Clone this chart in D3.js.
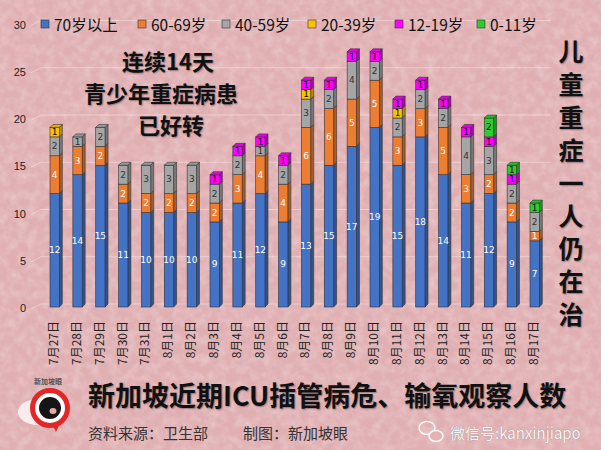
<!DOCTYPE html>
<html>
<head>
<meta charset="utf-8">
<script src="https://cdn.jsdelivr.net/npm/d3@7"></script>
<style>
body { margin: 0; background: #e3b3b6; }
svg { display: block; }
text { font-family: "Noto Sans CJK SC", "Noto Sans", sans-serif; }
</style>
</head>
<body>
<div id="chart"></div>
<script>
// chart data
const dates = ["7月27日","7月28日","7月29日","7月30日","7月31日","8月1日","8月2日","8月3日","8月4日","8月5日","8月6日",
  "8月7日","8月8日","8月9日","8月10日","8月11日","8月12日","8月13日","8月14日","8月15日","8月16日","8月17日"];
const groups = ["70岁以上","60-69岁","40-59岁","20-39岁","12-19岁","0-11岁"];
const age70 = [12,14,15,11,10,10,10,9,11,12,9,13,15,17,19,15,18,14,11,12,9,7];
const age60 = [4,3,2,2,2,2,2,2,3,4,4,6,6,5,5,3,3,5,3,2,2,1];
const age40 = [2,1,2,2,3,3,3,2,2,1,2,3,2,4,2,2,2,2,4,3,2,2];
const age20 = [1,0,0,0,0,0,0,0,0,0,0,1,0,0,0,1,0,0,0,0,0,0];
const age12 = [0,0,0,0,0,0,0,1,1,1,1,1,1,1,1,1,1,1,1,1,1,0];
const age0  = [0,0,0,0,0,0,0,0,0,0,0,0,0,0,0,0,0,0,0,2,1,1];
const yTicks = [0,5,10,15,20,25,30];

const colors = ["#4472c4","#ed7d31","#a5a5a5","#ffc000","#ff00ff","#2fcb2f"];
const labelColors = ["#ffffff","#ffffff","#333333","#111111","#111111","#111111"];

const W = 601, H = 450;
const depth = 3;

const svg = d3.select("#chart").append("svg")
  .attr("width", W).attr("height", H);

// background texture
const defs = svg.append("defs");
const f = defs.append("filter").attr("id","tex").attr("x",0).attr("y",0).attr("width","100%").attr("height","100%");
f.append("feTurbulence").attr("type","fractalNoise").attr("baseFrequency","0.11").attr("numOctaves",3).attr("seed",7);
f.append("feColorMatrix").attr("type","matrix")
  .attr("values","0 0 0 0 1  0 0 0 0 1  0 0 0 0 1  0.5 0 0 0 -0.18");
svg.append("rect").attr("width",W).attr("height",H).attr("fill","#e0afb2");
svg.append("rect").attr("width",W).attr("height",H).attr("filter","url(#tex)");

// build table for stacking
const table = dates.map((d,i) => ({
  date: d,
  "70岁以上": age70[i], "60-69岁": age60[i], "40-59岁": age40[i],
  "20-39岁": age20[i], "12-19岁": age12[i], "0-11岁": age0[i]
}));
const series = d3.stack().keys(groups)(table);

// scales
const x = d3.scaleBand()
  .domain(dates)
  .range([50, 539.3])
  .paddingInner(0.593)
  .paddingOuter(0);

const y = d3.scaleLinear()
  .domain([0,30])
  .range([307, 307 - 30*9.45]);

// gridlines on the back wall
const grid = svg.append("g");
yTicks.forEach(t => {
  grid.append("path")
    .attr("d", "M31," + (y(t)+2) + "L41," + (y(t)-3) + "L551," + (y(t)-3))
    .attr("fill","none")
    .attr("stroke","rgba(255,240,240,0.45)")
    .attr("stroke-width",1);
});

// y axis
const yAxis = d3.axisLeft(y).tickValues(yTicks).tickSize(0).tickPadding(3);
const gy = svg.append("g").attr("transform","translate(29,1)").call(yAxis);
gy.select(".domain").remove();
gy.selectAll("text").style("font-size","11px").style("font-family","'Liberation Sans', sans-serif").attr("fill","#222");

// x axis
const xAxis = d3.axisBottom(x).tickSize(0);
const gx = svg.append("g").attr("transform","translate(-1,318)").call(xAxis);
gx.select(".domain").remove();
gx.selectAll("text")
  .attr("transform","rotate(-90)")
  .attr("text-anchor","end")
  .attr("x",-3).attr("y",0).attr("dy","0.36em")
  .style("font-size","12px")
  .attr("fill","#222");

// 3D stacked bars
const bw = x.bandwidth();
const barG = svg.append("g");
dates.forEach((d,i) => {
  const x0 = x(d);
  let topIdx = -1;
  series.forEach((s,k) => { if (s[i][1] > s[i][0]) topIdx = k; });
  series.forEach((s,k) => {
    const v0 = s[i][0], v1 = s[i][1];
    if (v1 <= v0) return;
    const yt = y(v1), yb = y(v0);
    const c = d3.color(colors[k]);
    // side
    barG.append("path")
      .attr("d", `M${x0+bw},${yt}L${x0+bw+depth},${yt-depth}L${x0+bw+depth},${yb-depth}L${x0+bw},${yb}Z`)
      .attr("fill", c.darker(0.9))
      .attr("stroke","#333").attr("stroke-width",0.6).attr("stroke-linejoin","round");
    // front
    barG.append("rect")
      .attr("x", x0).attr("y", yt).attr("width", bw).attr("height", yb-yt)
      .attr("fill", colors[k])
      .attr("stroke","#333").attr("stroke-width",0.6);
    if (k === topIdx) {
      barG.append("path")
        .attr("d", `M${x0},${yt}L${x0+depth},${yt-depth}L${x0+bw+depth},${yt-depth}L${x0+bw},${yt}Z`)
        .attr("fill", c.darker(0.25))
        .attr("stroke","#333").attr("stroke-width",0.6).attr("stroke-linejoin","round");
    }
    barG.append("text")
      .attr("x", x0 + bw/2).attr("y", (yt+yb)/2)
      .attr("text-anchor","middle").attr("dominant-baseline","central")
      .style("font-family","'DejaVu Sans', sans-serif")
      .style("font-size","9px")
      .attr("fill", labelColors[k])
      .text(v1 - v0);
  });
});

// legend
const legendX = [41, 138, 222, 308, 395, 477];
const lg = svg.append("g");
groups.forEach((g,k) => {
  lg.append("rect").attr("x", legendX[k]).attr("y", 20).attr("width",8).attr("height",8)
    .attr("fill", colors[k]).attr("stroke","#333").attr("stroke-width",0.6);
  lg.append("text").attr("x", legendX[k] + 13).attr("y", 24)
    .attr("dominant-baseline","central")
    .style("font-size","15.5px").attr("fill","#111")
    .text(g);
});

// overlay headline
const shadow = "1px 1px 1.5px rgba(0,0,0,0.35)";
const head = [["连续14天",122,60],["青少年重症病患",84,92],["已好转",138,124]];
head.forEach(h => {
  svg.append("text").attr("x",h[1]).attr("y",h[2])
    .attr("dominant-baseline","central")
    .style("font-size","22px").style("font-weight","bold")
    .style("text-shadow", shadow)
    .attr("fill","#111").text(h[0]);
});

// vertical side text
const side = "儿童重症一人仍在治".split("");
side.forEach((ch,i) => {
  svg.append("text").attr("x",571).attr("y",50 + i*32.9)
    .attr("text-anchor","middle").attr("dominant-baseline","central")
    .style("font-size","25px").style("font-weight","bold")
    .style("text-shadow", shadow)
    .attr("fill","#111").text(ch);
});

// bottom title
svg.append("text").attr("x",88).attr("y",394)
  .attr("dominant-baseline","central")
  .style("font-size","27px").style("font-weight","bold")
  .style("text-shadow", shadow)
  .attr("fill","#111").text("新加坡近期ICU插管病危、输氧观察人数");

svg.append("text").attr("x",88).attr("y",432)
  .attr("dominant-baseline","central")
  .style("font-size","15px").attr("fill","#333")
  .text("资料来源：卫生部");
svg.append("text").attr("x",243).attr("y",432)
  .attr("dominant-baseline","central")
  .style("font-size","15px").attr("fill","#333")
  .text("制图：新加坡眼");

// wechat mark
const wx = svg.append("g").attr("fill","none").attr("stroke","#fafafa").attr("stroke-width",1.4);
wx.append("ellipse").attr("cx",427).attr("cy",428).attr("rx",8).attr("ry",6.5);
wx.append("ellipse").attr("cx",436).attr("cy",436).attr("rx",7).attr("ry",5.5).attr("fill","#e2b2b5");
svg.append("text").attr("x",450).attr("y",432)
  .attr("dominant-baseline","central")
  .style("font-size","15px").attr("fill","#f7f7f7")
  .style("text-shadow","0 0 1px rgba(0,0,0,0.4)")
  .text("微信号:kanxinjiapo");

// logo
const logo = svg.append("g");
logo.append("ellipse").attr("cx",38).attr("cy",412).attr("rx",20).attr("ry",13).attr("fill","rgba(255,255,255,0.75)");
logo.append("path").attr("d","M50,420L56,432L63,416Z").attr("fill","#e32727");
logo.append("circle").attr("cx",50).attr("cy",408).attr("r",17.5).attr("fill","#fff").attr("stroke","#e32727").attr("stroke-width",5);
logo.append("circle").attr("cx",50).attr("cy",408).attr("r",11).attr("fill","#151515");
logo.append("ellipse").attr("cx",53).attr("cy",411).attr("rx",3.5).attr("ry",3).attr("fill","#e9a8a8");
logo.append("text").attr("x",48).attr("y",381).attr("text-anchor","middle")
  .attr("dominant-baseline","central")
  .style("font-size","7px").style("font-weight","bold").attr("fill","#555")
  .text("新加坡眼");
</script>
</body>
</html>
